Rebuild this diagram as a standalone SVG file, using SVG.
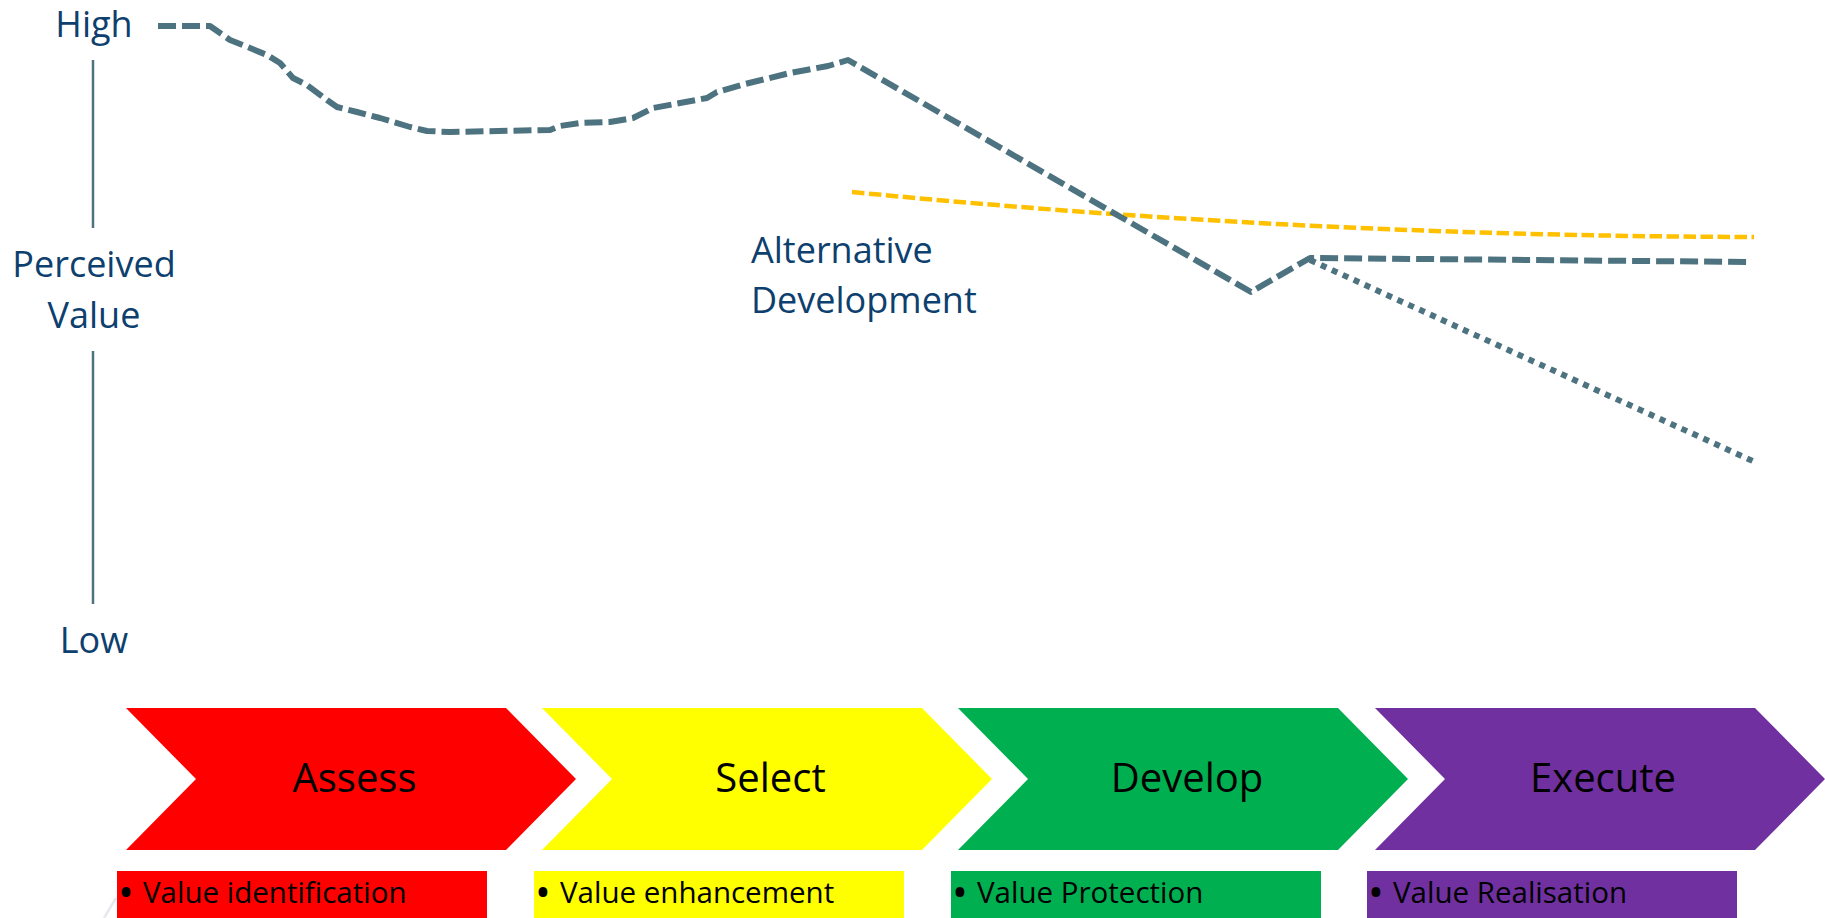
<svg xmlns="http://www.w3.org/2000/svg" width="1825" height="918" viewBox="0 0 1825 918">
  <style>
    .axis-label { font-family: "Open Sans", "Liberation Sans", sans-serif; font-size: 36px; fill: #0D406E; }
    .axis-line { stroke: #4E7380; stroke-width: 2.5; fill: none; }
    .value-line { stroke: #4E7380; stroke-width: 6; fill: none; stroke-dasharray: 18 6; stroke-linejoin: round; }
    .value-dotted { stroke: #4E7380; stroke-width: 6; fill: none; stroke-dasharray: 6 6; }
    .alt-line { stroke: #FFC000; stroke-width: 4.5; fill: none; stroke-dasharray: 12.5 4.5; }
    .phase-label { font-family: "Open Sans", "Liberation Sans", sans-serif; font-size: 40px; fill: #000; text-anchor: middle; }
    .note-label { font-family: "Open Sans", "Liberation Sans", sans-serif; font-size: 29.5px; fill: #000; }
    .bullet { font-size: 42px; }
  </style>

  <rect width="1825" height="918" fill="#FFFFFF"/>

  <!-- vertical value axis -->
  <g id="axis">
    <line class="axis-line" x1="93" y1="60" x2="93" y2="228"/>
    <line class="axis-line" x1="93" y1="351" x2="93" y2="604"/>
    <text class="axis-label" x="94" y="37" text-anchor="middle">High</text>
    <text class="axis-label" x="94" y="277" text-anchor="middle">Perceived</text>
    <text class="axis-label" x="94" y="328" text-anchor="middle">Value</text>
    <text class="axis-label" x="94" y="653" text-anchor="middle">Low</text>
  </g>

  <!-- value curves -->
  <g id="curves">
    <path id="alt-development-line" class="alt-line" d="M852,192 Q1300,236 1754,237"/>
    <path id="value-line" class="value-line" d="M158,26 L210,26 L230,40 L250,48 L267,55 L280,63 L293,78 L307,85 L327,100 L337,107 L357,112 L380,118 L410,127 L427,131 L450,132 L550,130 L560,126 L580,123 L610,122 L633,118 L653,108 L707,98 L717,92 L745,84 L790,73 L828,66 L848,60 L1251,292 L1310,258 L1752,262"/>
    <path id="value-decline" class="value-dotted" d="M1310,260 L1755,462"/>
  </g>

  <g id="alt-label">
    <text class="axis-label" x="751" y="263">Alternative</text>
    <text class="axis-label" x="751" y="313">Development</text>
  </g>

  <!-- phase chevrons -->
  <g id="phase-assess">
    <polygon points="126,708 506,708 576,779 506,850 126,850 196,779" fill="#FF0000"/>
    <text class="phase-label" x="354.5" y="792">Assess</text>
  </g>
  <g id="phase-select">
    <polygon points="542,708 922,708 992,779 922,850 542,850 612,779" fill="#FFFF00"/>
    <text class="phase-label" x="770.5" y="792">Select</text>
  </g>
  <g id="phase-develop">
    <polygon points="958,708 1338,708 1408,779 1338,850 958,850 1028,779" fill="#00B050"/>
    <text class="phase-label" x="1187" y="792">Develop</text>
  </g>
  <g id="phase-execute">
    <polygon points="1375,708 1755,708 1825,779 1755,850 1375,850 1445,779" fill="#7030A0"/>
    <text class="phase-label" x="1603" y="792">Execute</text>
  </g>

  <!-- phase notes -->
  <line x1="104" y1="918" x2="116" y2="898" stroke="#E6E8EE" stroke-width="2.5"/>
  <g id="note-assess">
    <rect x="117" y="871" width="370" height="60" fill="#FF0000"/>
    <text class="note-label" y="903"><tspan class="bullet" x="118" y="907">•</tspan><tspan x="143" y="903">Value identification</tspan></text>
  </g>
  <g id="note-select">
    <rect x="534" y="871" width="370" height="60" fill="#FFFF00"/>
    <text class="note-label" y="903"><tspan class="bullet" x="535" y="907">•</tspan><tspan x="560" y="903">Value enhancement</tspan></text>
  </g>
  <g id="note-develop">
    <rect x="951" y="871" width="370" height="60" fill="#00B050"/>
    <text class="note-label" y="903"><tspan class="bullet" x="952" y="907">•</tspan><tspan x="977" y="903">Value Protection</tspan></text>
  </g>
  <g id="note-execute">
    <rect x="1367" y="871" width="370" height="60" fill="#7030A0"/>
    <text class="note-label" y="903"><tspan class="bullet" x="1368" y="907">•</tspan><tspan x="1393" y="903">Value Realisation</tspan></text>
  </g>
</svg>
